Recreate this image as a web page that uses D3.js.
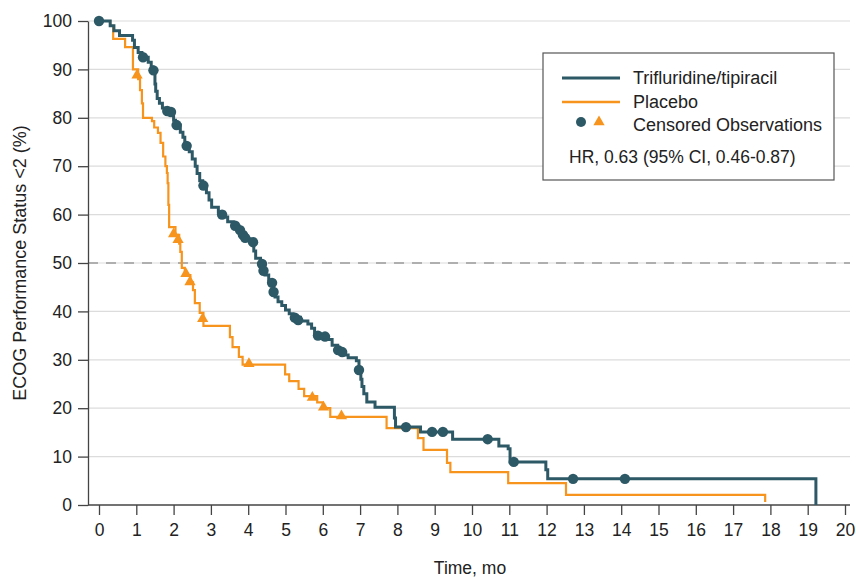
<!DOCTYPE html>
<html>
<head>
<meta charset="utf-8">
<script src="https://cdn.jsdelivr.net/npm/d3@7"></script>
<style>
  html, body { margin: 0; padding: 0; background: #fff; }
  svg { display: block; font-family: "Liberation Sans", Arial, sans-serif; }
</style>
</head>
<body>
<svg id="chart" width="856" height="579"></svg>
<script>
// ---- Data ----
const xTickValues = [0,1,2,3,4,5,6,7,8,9,10,11,12,13,14,15,16,17,18,19,20];
const yTickValues = [0,10,20,30,40,50,60,70,80,90,100];
const seriesNames = ["Trifluridine/tipiracil", "Placebo"];
const censorLabel = "Censored Observations";
const hrText = "HR, 0.63 (95% CI, 0.46-0.87)";
const xTitle = "Time, mo";
const yTitle = "ECOG Performance Status <2 (%)";

// Kaplan-Meier steps: [time (mo), % ] — value holds from that time on
const ftdSteps = [
  [0,100],[0.3,99],[0.4,98],[0.55,97],[0.9,96],[0.95,94.5],[1.05,93.5],[1.15,92.5],
  [1.32,91.5],[1.4,90.5],[1.45,89.8],[1.5,87],[1.52,85.5],[1.56,84],[1.62,83],[1.7,82],
  [1.8,81.3],[2.0,79.5],[2.05,78.5],[2.18,77],[2.25,76],[2.3,74.5],[2.42,73],[2.5,71.5],
  [2.58,70],[2.63,68.5],[2.7,67],[2.78,66],[2.88,64.5],[2.95,63],[3.02,61.5],[3.2,60.5],
  [3.35,59.5],[3.45,58.5],[3.6,57.7],[3.75,56.8],[3.85,55.8],[3.95,55],[4.05,54.3],
  [4.15,52.5],[4.2,51],[4.33,50],[4.4,48.5],[4.45,47.5],[4.55,46.5],[4.62,45.5],
  [4.68,44],[4.72,43],[4.8,42],[4.9,41.2],[5.0,40.3],[5.1,39.5],[5.2,38.8],[5.4,38],
  [5.6,37.4],[5.7,36.5],[5.78,35.2],[6.1,34.2],[6.25,33],[6.4,32],[6.55,31],[6.68,30.4],
  [6.9,29.8],[6.97,28],[7.02,26],[7.05,24.5],[7.1,23],[7.18,21.3],[7.4,20.2],[7.92,18],
  [7.95,16.1],[8.62,15.1],[9.48,13.6],[10.72,12.2],[10.97,11.6],[11.02,8.9],[11.98,7.3],
  [12.03,5.4],[19.22,0]
];
const ftdCensored = [
  [0,100],[1.18,92.5],[1.46,89.8],[1.83,81.4],[1.93,81.2],[2.08,78.5],[2.35,74.2],
  [2.8,66],[3.3,60],[3.65,57.7],[3.78,56.8],[3.86,55.8],[3.92,55.2],[4.13,54.3],
  [4.37,49.8],[4.41,48.4],[4.64,45.9],[4.68,44],[5.25,38.7],[5.34,38.2],[5.87,35],
  [6.06,34.8],[6.41,32],[6.52,31.6],[6.97,27.9],[8.23,16.1],[8.93,15.1],[9.22,15.1],
  [10.42,13.6],[11.12,8.9],[12.71,5.4],[14.1,5.4]
];

const pboSteps = [
  [0,100],[0.3,99],[0.38,96.3],[0.7,94.6],[0.91,90],[1.05,88],[1.1,85.7],[1.15,83],
  [1.18,80],[1.42,79.3],[1.48,78],[1.58,76.9],[1.65,74.8],[1.72,72],[1.78,70],
  [1.82,68.6],[1.84,66.5],[1.86,62],[1.88,57.4],[2.05,55.8],[2.15,54],[2.18,52.3],
  [2.22,49],[2.3,47.5],[2.45,46],[2.52,44.4],[2.57,41.7],[2.7,39.7],[2.8,37],
  [3.51,34.7],[3.58,32.6],[3.75,30.6],[3.85,29],[4.99,27],[5.1,25.6],[5.35,24],
  [5.5,22.5],[5.85,21.2],[6.0,20],[6.2,18.2],[7.71,15.9],[8.55,13.8],[8.7,11.4],
  [9.33,8.7],[9.42,6.8],[10.97,4.5],[12.52,2.1],[17.86,0.6]
];
const pboCensored = [
  [1.02,88.8],[2.0,56],[2.12,54.8],[2.33,47.8],[2.44,46.1],[2.78,38.5],[4.02,29.2],
  [5.72,22.2],[6.02,20.2],[6.5,18.4]
];

// ---- Layout ----
const teal = "#2d5866";
const orange = "#f7941d";
const svg = d3.select("#chart");
const x = d3.scaleLinear().domain([0, 20]).range([99, 845]);
const y = d3.scaleLinear().domain([0, 100]).range([505, 21]);
const axisX = 88, axisRight = 850;

// grid lines
svg.append("g").selectAll("line")
  .data(yTickValues.filter(v => v > 0))
  .join("line")
  .attr("x1", axisX).attr("x2", axisRight)
  .attr("y1", d => y(d)).attr("y2", d => y(d))
  .attr("stroke", "#dcdcdc").attr("stroke-width", 1.2);

// dashed median line
svg.append("line")
  .attr("x1", axisX).attr("x2", axisRight)
  .attr("y1", y(50)).attr("y2", y(50))
  .attr("stroke", "#9a9a9a").attr("stroke-width", 1.3)
  .attr("stroke-dasharray", "10,8");

// y axis
const gy = svg.append("g").attr("transform", `translate(${axisX},0)`)
  .call(d3.axisLeft(y).tickValues(yTickValues).tickSize(10).tickPadding(6).tickSizeOuter(0));
gy.select(".domain").attr("stroke", "#444").attr("stroke-width", 1.3);
gy.selectAll(".tick line").attr("stroke", "#444").attr("stroke-width", 1.3);
gy.selectAll(".tick text").attr("font-size", 17.5).attr("fill", "#222")
  .attr("font-family", "Liberation Sans, Arial, sans-serif");

// x axis
const gx = svg.append("g").attr("transform", `translate(0,${y(0)})`)
  .call(d3.axisBottom(x).tickValues(xTickValues).tickSize(10).tickPadding(9).tickSizeOuter(0));
gx.select(".domain").remove();
gx.selectAll(".tick line").attr("stroke", "#444").attr("stroke-width", 1.3);
gx.selectAll(".tick text").attr("font-size", 17.5).attr("fill", "#222")
  .attr("font-family", "Liberation Sans, Arial, sans-serif");
svg.append("line").attr("x1", axisX).attr("x2", axisRight)
  .attr("y1", y(0)).attr("y2", y(0)).attr("stroke", "#444").attr("stroke-width", 1.3);

// axis titles
svg.append("text").attr("x", 470).attr("y", 574)
  .attr("text-anchor", "middle").attr("font-size", 17.5).attr("fill", "#222").text(xTitle);
svg.append("text").attr("transform", `translate(26,${y(50)}) rotate(-90)`)
  .attr("text-anchor", "middle").attr("font-size", 18).attr("fill", "#222").text(yTitle);

// curves
const line = d3.line().x(d => x(d[0])).y(d => y(d[1])).curve(d3.curveStepAfter);
svg.append("path").datum(pboSteps).attr("d", line)
  .attr("fill", "none").attr("stroke", orange).attr("stroke-width", 2.2);
svg.append("path").datum(ftdSteps).attr("d", line)
  .attr("fill", "none").attr("stroke", teal).attr("stroke-width", 3);

// censor marks
const tri = d3.symbol().type(d3.symbolTriangle).size(55);
svg.append("g").selectAll("path").data(pboCensored).join("path")
  .attr("d", tri).attr("transform", d => `translate(${x(d[0])},${y(d[1])})`)
  .attr("fill", orange);
svg.append("g").selectAll("circle").data(ftdCensored).join("circle")
  .attr("cx", d => x(d[0])).attr("cy", d => y(d[1])).attr("r", 5.2)
  .attr("fill", teal);

// legend
const lg = svg.append("g");
lg.append("rect").attr("x", 543).attr("y", 53).attr("width", 291).attr("height", 127)
  .attr("fill", "#fff").attr("stroke", "#555").attr("stroke-width", 1.2);
lg.append("line").attr("x1", 562).attr("x2", 620).attr("y1", 78).attr("y2", 78)
  .attr("stroke", teal).attr("stroke-width", 3);
lg.append("line").attr("x1", 562).attr("x2", 620).attr("y1", 102).attr("y2", 102)
  .attr("stroke", orange).attr("stroke-width", 2.5);
lg.append("circle").attr("cx", 581).attr("cy", 122).attr("r", 5).attr("fill", teal);
lg.append("path").attr("d", tri).attr("transform", "translate(599,122)").attr("fill", orange);
const lt = [[seriesNames[0], 84], [seriesNames[1], 108], [censorLabel, 131]];
lg.selectAll("text.lt").data(lt).join("text").attr("class", "lt")
  .attr("x", 633).attr("y", d => d[1]).attr("font-size", 18).attr("fill", "#222").text(d => d[0]);
lg.append("text").attr("x", 569).attr("y", 163).attr("font-size", 17.5).attr("fill", "#222").text(hrText);
</script>
</body>
</html>
